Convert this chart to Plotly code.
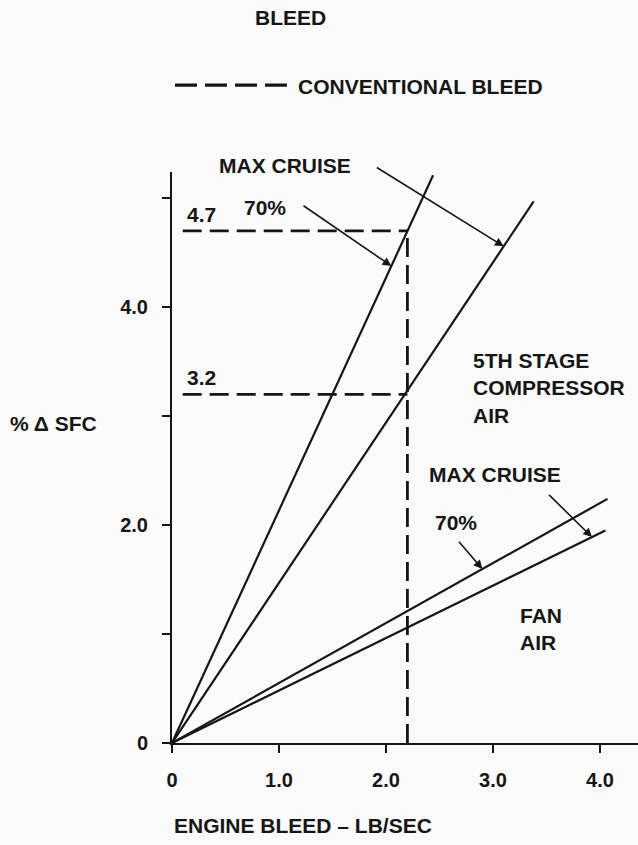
import plotly.graph_objects as go

# Engine bleed flow (lb/sec) versus change in specific fuel consumption (%)
stage5_70_x = [0.0, 2.44]
stage5_70_y = [0.0, 5.21]
stage5_max_x = [0.0, 3.38]
stage5_max_y = [0.0, 4.97]
fan_70_x = [0.0, 4.07]
fan_70_y = [0.0, 2.24]
fan_max_x = [0.0, 4.05]
fan_max_y = [0.0, 1.95]

conv_bleed = 2.2
conv_sfc = [4.7, 3.2]
conv_sfc_labels = ["4.7", "3.2"]

x_ticks = [0, 1, 2, 3, 4]
x_tick_labels = ["0", "1.0", "2.0", "3.0", "4.0"]
y_ticks = [0, 1, 2, 3, 4, 5]
y_tick_labels = ["0", "", "2.0", "", "4.0", ""]

INK = "#161616"
BG = "#fbfbfb"
FONT = "Liberation Sans, Arial, sans-serif"

fig = go.Figure()

curve_style = dict(color=INK, width=2.2)
for xs, ys in [(stage5_70_x, stage5_70_y), (stage5_max_x, stage5_max_y),
               (fan_70_x, fan_70_y), (fan_max_x, fan_max_y)]:
    fig.add_trace(go.Scatter(x=xs, y=ys, mode="lines", line=curve_style,
                             hoverinfo="skip", cliponaxis=False))

# Dashed guides for the conventional bleed case
dash_style = dict(color=INK, width=2.8, dash="19px,8px")
for v in conv_sfc:
    fig.add_trace(go.Scatter(x=[0.1, conv_bleed], y=[v, v], mode="lines",
                             line=dash_style, hoverinfo="skip"))
fig.add_trace(go.Scatter(x=[conv_bleed, conv_bleed], y=[0, max(conv_sfc)],
                         mode="lines", line=dash_style, hoverinfo="skip"))

text_font = dict(family=FONT, size=21, color=INK, weight="bold")
ann = []

for v, lab in zip(conv_sfc, conv_sfc_labels):
    ann.append(dict(x=0.12, y=v, text=lab, showarrow=False, xanchor="left",
                    yanchor="bottom", yshift=3, font=text_font))


def slope(xs, ys):
    return ys[1] / xs[1]


def pointer(tx, series_x, series_y, sx, sy):
    """Arrow from (sx, sy) onto the curve at x = tx."""
    ty = slope(series_x, series_y) * tx
    return dict(x=tx, y=ty, ax=sx, ay=sy, xref="x", yref="y", axref="x",
                ayref="y", text="", showarrow=True, arrowhead=2,
                arrowsize=1.1, arrowwidth=1.6, arrowcolor=INK, standoff=0)


ann.append(pointer(3.10, stage5_max_x, stage5_max_y, 1.90, 5.29))
ann.append(pointer(2.05, stage5_70_x, stage5_70_y, 1.215, 4.94))
ann.append(pointer(2.90, fan_70_x, fan_70_y, 2.67, 1.86))
ann.append(pointer(3.925, fan_max_x, fan_max_y, 3.51, 2.29))

# Labels (x, y, text, extra vertical pixel shift)
labels = [
    (0.42, 5.20, "MAX CRUISE", 11),
    (0.655, 4.91, "70%", 0),
    (2.79, 3.26, "5TH STAGE<br>COMPRESSOR<br>AIR", 0),
    (2.38, 2.46, "MAX CRUISE", 0),
    (2.44, 2.02, "70%", 0),
    (3.23, 1.05, "FAN<br>AIR", 0),
]
for x, y, t, dy in labels:
    ann.append(dict(x=x, y=y, text=t, showarrow=False, xanchor="left",
                    yanchor="middle", align="left", yshift=dy,
                    font=text_font))

# Axis titles, heading and dashed key
ann.append(dict(x=-0.352, y=2.93, xref="paper", yref="y", text="% Δ SFC",
                showarrow=False, xanchor="left", yanchor="middle",
                font=text_font))
ann.append(dict(x=0.0, y=-0.145, xref="paper", yref="paper",
                text="ENGINE BLEED – LB/SEC", showarrow=False,
                xanchor="left", yanchor="middle", font=text_font))
ann.append(dict(x=0.174, y=1.270, xref="paper", yref="paper", text="BLEED",
                showarrow=False, xanchor="left", yanchor="middle",
                font=text_font))
ann.append(dict(x=0.266, y=1.149, xref="paper", yref="paper",
                text="CONVENTIONAL BLEED", showarrow=False, xanchor="left",
                yanchor="middle", font=text_font))

shapes = [dict(type="line", xref="paper", yref="paper", x0=0.0064, x1=0.249,
               y0=1.152, y1=1.152,
               line=dict(color=INK, width=3.2, dash="22px,8px"))]

tick_font = dict(family=FONT, size=20, color=INK, weight="bold")
fig.update_layout(
    width=638, height=845,
    margin=dict(l=172, r=0, t=172, b=102),
    paper_bgcolor=BG, plot_bgcolor=BG,
    showlegend=False,
    annotations=ann, shapes=shapes,
    xaxis=dict(range=[0, 4.355], showgrid=False, zeroline=False,
               showline=True, linecolor=INK, linewidth=2, ticks="outside",
               ticklen=8, tickwidth=1.6, tickcolor=INK, tickvals=x_ticks,
               ticktext=x_tick_labels, tickfont=tick_font,
               ticklabelstandoff=10, fixedrange=True),
    yaxis=dict(range=[0, 5.24], showgrid=False, zeroline=False,
               showline=True, linecolor=INK, linewidth=2, ticks="outside",
               ticklen=8, tickwidth=1.6, tickcolor=INK, tickvals=y_ticks,
               ticktext=y_tick_labels, tickfont=tick_font,
               ticklabelstandoff=10, fixedrange=True),
)

fig.write_html("out.html", config={"displayModeBar": False})
